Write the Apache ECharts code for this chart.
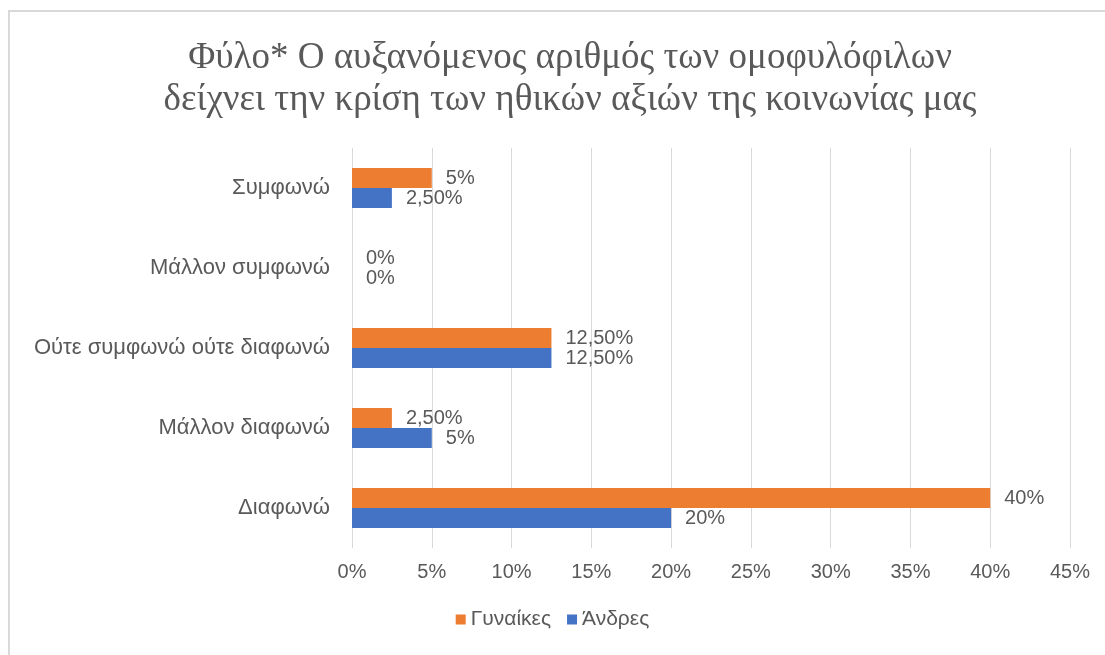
<!DOCTYPE html>
<html>
<head>
<meta charset="utf-8">
<script src="https://cdn.jsdelivr.net/npm/echarts@6/dist/echarts.min.js"></script>
<style>
  html, body { margin: 0; padding: 0; background: #fff; }
  #chart { width: 1105px; height: 655px; }
</style>
</head>
<body>
<div id="chart"></div>
<script>
// κατηγορίες (από πάνω προς τα κάτω)
const categories = ['Συμφωνώ', 'Μάλλον συμφωνώ', 'Ούτε συμφωνώ ούτε διαφωνώ', 'Μάλλον διαφωνώ', 'Διαφωνώ'];
const seriesNames = ['Γυναίκες', 'Άνδρες'];
const women = [5, 0, 12.5, 2.5, 40];
const men = [2.5, 0, 12.5, 5, 20];
const xTicks = [0, 5, 10, 15, 20, 25, 30, 35, 40, 45];

const GREY = '#595959';
const fmt = v => (Number.isInteger(v) ? v + '%' : v.toFixed(2).replace('.', ',') + '%');

const chart = echarts.init(document.getElementById('chart'));

const labelStyle = {
  show: true,
  position: 'right',
  formatter: p => fmt(p.value),
  color: GREY,
  fontSize: 20,
  fontFamily: 'Liberation Sans',
  distance: 14
};

const option = {
  animation: false,
  backgroundColor: '#fff',
  title: {
    text: 'Φύλο* Ο αυξανόμενος αριθμός των ομοφυλόφιλων\nδείχνει την κρίση των ηθικών αξιών της κοινωνίας μας',
    left: 565,
    textAlign: 'center',
    top: 32,
    textStyle: {
      fontFamily: 'Liberation Serif',
      fontWeight: 'normal',
      fontSize: 37,
      lineHeight: 42,
      color: '#595959'
    }
  },
  legend: {
    data: seriesNames,
    bottom: 20,
    left: 'center',
    itemWidth: 10,
    itemHeight: 10,
    itemGap: 16,
    icon: 'rect',
    textStyle: { fontSize: 21, color: GREY, fontFamily: 'Liberation Sans' }
  },
  grid: { left: 352, right: 35, top: 148, bottom: 107 },
  xAxis: {
    type: 'value',
    min: xTicks[0],
    max: xTicks[xTicks.length - 1],
    interval: 5,
    axisLine: { show: false },
    axisTick: { show: false },
    splitLine: { lineStyle: { color: '#d9d9d9', width: 1 } },
    axisLabel: {
      formatter: v => v + '%',
      color: GREY,
      fontSize: 20,
      margin: 14,
      fontFamily: 'Liberation Sans'
    }
  },
  yAxis: {
    type: 'category',
    data: categories,
    inverse: true,
    axisLine: { show: false },
    axisTick: { show: false },
    axisLabel: { color: GREY, fontSize: 22, margin: 22, fontFamily: 'Liberation Sans' }
  },
  series: [
    {
      name: seriesNames[0],
      type: 'bar',
      data: women,
      barGap: '0%',
      barCategoryGap: '50%',
      itemStyle: { color: '#ED7D31' },
      label: labelStyle
    },
    {
      name: seriesNames[1],
      type: 'bar',
      data: men,
      itemStyle: { color: '#4472C4' },
      label: labelStyle
    }
  ],
  graphic: [
    {
      type: 'rect',
      shape: { x: 9, y: 11, width: 1110, height: 660 },
      style: { fill: 'none', stroke: '#d9d9d9', lineWidth: 2 },
      silent: true
    }
  ]
};

chart.setOption(option);
</script>
</body>
</html>
